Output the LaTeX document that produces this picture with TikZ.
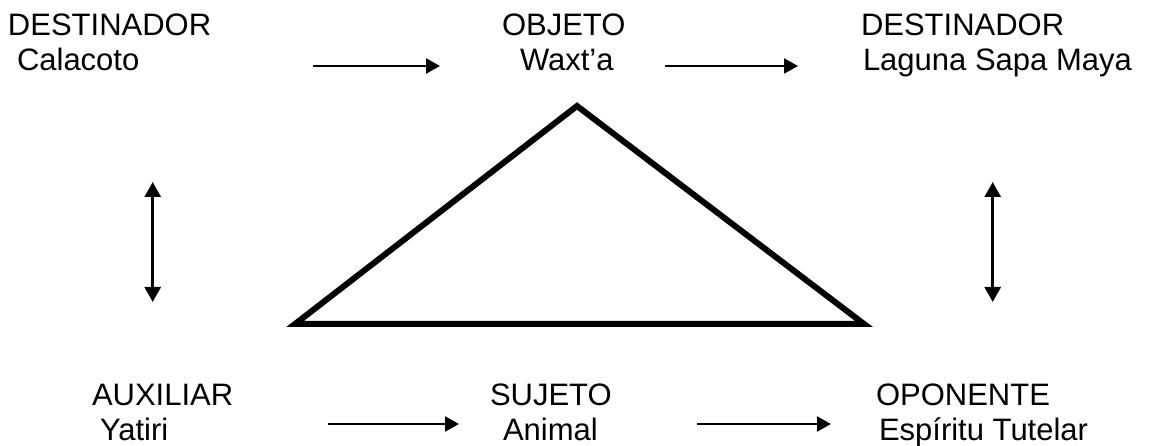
\documentclass[tikz,border=0pt]{standalone}
\usepackage{fontspec}
\setmainfont{Liberation Sans}
\usetikzlibrary{arrows.meta}
\tikzset{
  lbl/.style={anchor=base west, inner sep=0pt, outer sep=0pt, font=\fontsize{31}{31}\selectfont},
  harrow/.style={line width=2.4pt, -{Triangle[length=14pt,width=15pt]}},
  varrow/.style={line width=2.8pt, {Triangle[length=15pt,width=16pt]}-{Triangle[length=15pt,width=16pt]}},
  tri/.style={line width=6pt, line join=miter}
}
\begin{document}
\begin{tikzpicture}[x=1pt,y=-1pt]
\useasboundingbox (0,0) rectangle (1149,446);
% top row
\node[lbl] (dest1) at (8,36) {DESTINADOR};
\node[lbl] (cala) at (17,71) {Calacoto};
\node[lbl] (obj) at (502,36) {OBJETO};
\node[lbl] (wax) at (520,71) {Waxt’a};
\node[lbl] (dest2) at (861,36) {DESTINADOR};
\node[lbl] (lag) at (863,71) {Laguna Sapa Maya};
% bottom row
\node[lbl] (aux) at (92,405) {AUXILIAR};
\node[lbl] (yat) at (100,440) {Yatiri};
\node[lbl] (suj) at (490,405) {SUJETO};
\node[lbl] (ani) at (503,440) {Animal};
\node[lbl] (opo) at (876,405) {OPONENTE};
\node[lbl] (esp) at (879,440) {Espíritu Tutelar};
% arrow end points
\coordinate (a1s) at (313,66); \coordinate (a1e) at (440,66);
\coordinate (a2s) at (665,66); \coordinate (a2e) at (798,66);
\coordinate (a3s) at (328,424); \coordinate (a3e) at (459,424);
\coordinate (a4s) at (697,424); \coordinate (a4e) at (831,424);
\coordinate (v1t) at (152.7,182); \coordinate (v1b) at (152.7,302);
\coordinate (v2t) at (992.7,182); \coordinate (v2b) at (992.7,302);
\draw[harrow] (a1s) -- (a1e);
\draw[harrow] (a2s) -- (a2e);
\draw[harrow] (a3s) -- (a3e);
\draw[harrow] (a4s) -- (a4e);
\draw[varrow] (v1t) -- (v1b);
\draw[varrow] (v2t) -- (v2b);
% triangle
\coordinate (apex) at (577,106);
\coordinate (bl) at (295,324);
\coordinate (br) at (864,324);
\draw[tri] (apex) -- (bl) -- (br) -- cycle;
\end{tikzpicture}
\end{document}
